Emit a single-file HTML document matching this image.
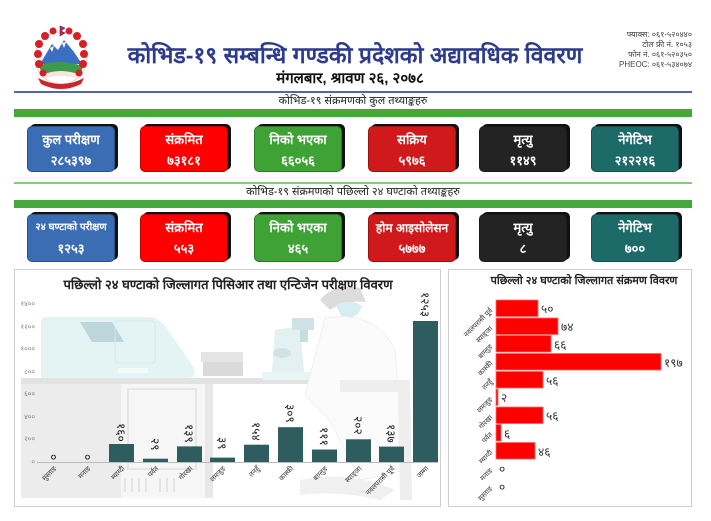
<!DOCTYPE html>
<html><head><meta charset="utf-8">
<style>
*{margin:0;padding:0;box-sizing:border-box}
html,body{width:711px;height:521px;overflow:hidden;background:#fff}
body{position:relative;font-family:"Liberation Sans","DejaVu Sans",sans-serif}
.abs{position:absolute}
.title{left:100px;top:43px;width:510px;text-align:center;font-size:23px;font-weight:bold;color:#2d3b8f;line-height:24px;white-space:nowrap}
.date{left:200px;top:70px;width:300px;text-align:center;font-size:15px;font-weight:bold;color:#111;line-height:17px;white-space:nowrap}
.contact{left:580px;top:30px;width:112px;text-align:right;font-size:8px;color:#444;line-height:10px;white-space:nowrap}
.hline{left:14px;width:678px}
.head{left:14px;width:678px;text-align:center;font-size:11px;color:#222;line-height:12px;white-space:nowrap}
.box{width:88px;border-radius:5px;color:#fff;font-weight:bold;text-align:center;box-shadow:3px -2px 0 #111;border:1px solid rgba(0,0,0,0.25);overflow:hidden}
.box .l{font-size:13px;line-height:16px;margin-top:5px;white-space:nowrap}
.box .v{font-size:13px;line-height:16px;margin-top:5px;white-space:nowrap}
.r1{top:126px;height:46px}
.r2{top:214px;height:48px}
</style></head><body>

<!-- Logo -->
<svg class="abs" style="left:26px;top:24px" width="70" height="68" viewBox="0 0 70 68">
  <circle cx="35" cy="34" r="26" fill="#fff" stroke="#e8d0d0" stroke-width="1"/>
  <path d="M14,40 L26,20 L32,26 L38,16 L48,28 L56,40 Z" fill="#3d6fc0"/>
  <path d="M24,24 L28,22 L26,28 Z M36,19 L40,18 L38,24 Z" fill="#fff"/>
  <path d="M13,42 Q30,34 57,42 L55,50 Q35,46 16,50 Z" fill="#3c9a4a"/>
  <path d="M18,50 Q35,44 52,50 L50,54 Q35,50 20,54 Z" fill="#f4e6e0"/>
  <path d="M12,54 Q35,66 58,54 L55,60 Q35,70 15,60 Z" fill="#c8262b"/>
  <g fill="#d62027">
    <circle cx="12" cy="30" r="4"/><circle cx="13" cy="20" r="4"/><circle cx="19" cy="12" r="4"/>
    <circle cx="27" cy="7" r="3.5"/><circle cx="43" cy="7" r="3.5"/><circle cx="51" cy="12" r="4"/>
    <circle cx="57" cy="20" r="4"/><circle cx="58" cy="30" r="4"/><circle cx="57" cy="40" r="4"/>
    <circle cx="13" cy="40" r="4"/><circle cx="17" cy="49" r="3.5"/><circle cx="53" cy="49" r="3.5"/>
  </g>
  <path d="M34,2 L34,12 L39,9 L35,7 L39,4 Z" fill="#d62027" stroke="#2a3b8f" stroke-width="0.6"/>
</svg>

<div class="abs title">कोभिड-१९ सम्बन्धि गण्डकी प्रदेशको अद्यावधिक विवरण</div>
<div class="abs date">मंगलबार, श्रावण २६, २०७८</div>
<div class="abs contact">फ्याक्स: ०६१-५२०४४०<br>टोल फ्री नं. १०५३<br>फोन नं. ०६१-५२०३५०<br>PHEOC: ०६१-५३४०७४</div>

<div class="abs hline" style="top:91px;height:2px;background:#5266ad"></div>
<div class="abs head" style="top:95px">कोभिड-१९ संक्रमणको कुल तथ्याङ्कहरु</div>
<div class="abs hline" style="top:109px;height:8px;background:#45a83a"></div>

<div class="abs box r1" style="left:27px;background:#3a6db4"><div class="l">कुल परीक्षण</div><div class="v">२८५३९७</div></div>
<div class="abs box r1" style="left:140px;background:#fe0000"><div class="l">संक्रमित</div><div class="v">७३१८१</div></div>
<div class="abs box r1" style="left:254px;background:#3ea334"><div class="l">निको भएका</div><div class="v">६६०५६</div></div>
<div class="abs box r1" style="left:368px;background:#d0191b"><div class="l">सक्रिय</div><div class="v">५९७६</div></div>
<div class="abs box r1" style="left:479px;background:#232323"><div class="l">मृत्यु</div><div class="v">११४९</div></div>
<div class="abs box r1" style="left:591px;background:#1d6b68"><div class="l">नेगेटिभ</div><div class="v">२१२२१६</div></div>

<div class="abs hline" style="top:182px;height:2px;background:#86cc78"></div>
<div class="abs head" style="top:186px">कोभिड-१९ संक्रमणको पछिल्लो २४ घण्टाको तथ्याङ्कहरु</div>
<div class="abs hline" style="top:200px;height:8px;background:#45a83a"></div>

<div class="abs box r2" style="left:27px;background:#3a6db4"><div class="l" style="font-size:10px">२४ घण्टाको परीक्षण</div><div class="v">१२५३</div></div>
<div class="abs box r2" style="left:140px;background:#fe0000"><div class="l">संक्रमित</div><div class="v">५५३</div></div>
<div class="abs box r2" style="left:254px;background:#3ea334"><div class="l">निको भएका</div><div class="v">४६५</div></div>
<div class="abs box r2" style="left:368px;background:#d0191b"><div class="l" style="font-size:12px">होम आइसोलेसन</div><div class="v">५७७७</div></div>
<div class="abs box r2" style="left:479px;background:#232323"><div class="l">मृत्यु</div><div class="v">८</div></div>
<div class="abs box r2" style="left:591px;background:#1d6b68"><div class="l">नेगेटिभ</div><div class="v">७००</div></div>

<!-- Charts -->
<svg class="abs" style="left:0;top:0" width="711" height="521" viewBox="0 0 711 521" font-family="Liberation Sans, DejaVu Sans, sans-serif">
  <!-- left panel -->
  <rect x="14.5" y="269.5" width="426" height="237" fill="#fff" stroke="#cfcfcf"/>
  <!-- background illustration -->
  <path d="M46,317 L148,317 Q158,317 166,327 L194,368 Q197,378 188,378 L41,378 L41,323 Q41,317 46,317 Z" fill="#e4f3f3"/>
  <path d="M80,322 L112,322 L124,342 L92,342 Z" fill="#bcd6dc"/>
  <rect x="115" y="321" width="40" height="42" rx="3" fill="none" stroke="#d5e9ea"/>
  <rect x="118" y="368" width="30" height="5" fill="#f3fafa"/>
  <rect x="21" y="378" width="300" height="6" fill="#e2e2e2"/>
  <rect x="21" y="384" width="100" height="114" fill="#ececec"/>
  <rect x="121" y="384" width="84" height="114" fill="#f6f6f6"/>
  <rect x="128" y="389" width="68" height="80" fill="none" stroke="#e6e6e6" stroke-width="2"/>
  <rect x="205" y="384" width="8" height="114" fill="#e8e8e8"/>
  <rect x="201" y="352" width="42" height="10" fill="#e4e4e4"/>
  <rect x="203" y="362" width="40" height="14" fill="#dadada"/>
  <!-- microscope -->
  <path d="M275,330 L300,326 L304,372 L272,372 Z" fill="#e3f1f2"/>
  <rect x="292" y="318" width="22" height="12" fill="#cfe3e6"/>
  <rect x="300" y="330" width="8" height="12" fill="#c6dde0"/>
  <ellipse cx="282" cy="353" rx="9" ry="5" fill="#cfe3e6"/>
  <rect x="262" y="372" width="56" height="8" fill="#e9f4f4"/>
  <!-- scientist -->
  <path d="M320,300 Q335,282 360,288 L366,302 Q345,300 330,310 Z" fill="#dcdcdc"/>
  <path d="M336,305 Q352,298 362,306 Q358,320 342,318 Z" fill="#d6edf2"/>
  <path d="M325,318 Q375,310 395,350 L405,470 L360,480 L330,420 L305,395 Z" fill="#fbfbfb" stroke="#efefef"/>
  <path d="M340,380 L410,380 L412,500 L400,500 L398,392 L340,392 Z" fill="#eeeeee"/>
  <path d="M300,480 Q350,470 395,490 L380,500 Q340,490 300,495 Z" fill="#f0f0f0"/>
  <g stroke="#e4e4e4" stroke-width="2">
    <line x1="125" y1="478" x2="125" y2="492"/><line x1="132" y1="478" x2="132" y2="492"/><line x1="139" y1="478" x2="139" y2="492"/><line x1="146" y1="478" x2="146" y2="492"/><line x1="160" y1="478" x2="160" y2="492"/><line x1="167" y1="478" x2="167" y2="492"/><line x1="174" y1="478" x2="174" y2="492"/>
  </g>

  <text x="228" y="289" text-anchor="middle" font-size="13" font-weight="bold" fill="#222">पछिल्लो २४ घण्टाको जिल्लागत पिसिआर तथा एन्टिजेन परीक्षण विवरण</text>

  <!-- y axis labels -->
  <g font-size="7" fill="#888" text-anchor="end">
    <text x="35" y="306">१४००</text>
    <text x="35" y="329">१२००</text>
    <text x="35" y="351">१०००</text>
    <text x="35" y="374">८००</text>
    <text x="35" y="396">६००</text>
    <text x="35" y="419">४००</text>
    <text x="35" y="441">२००</text>
    <text x="35" y="464">०</text>
  </g>
  <line x1="37" y1="462.5" x2="438" y2="462.5" stroke="#bbb" stroke-width="1"/>

  <!-- bars -->
  <g fill="#2f5c5e">
    <rect x="109" y="444" width="25" height="18"/>
    <rect x="143" y="458.7" width="25" height="3.3"/>
    <rect x="177" y="446.4" width="25" height="15.6"/>
    <rect x="210" y="457.6" width="25" height="4.4"/>
    <rect x="244" y="444.7" width="25" height="17.3"/>
    <rect x="278" y="427.2" width="25" height="34.8"/>
    <rect x="312" y="449.5" width="25" height="12.5"/>
    <rect x="346" y="439.3" width="25" height="22.7"/>
    <rect x="379" y="446.6" width="25" height="15.4"/>
    <rect x="413" y="321" width="25" height="141"/>
  </g>

  <!-- value labels -->
  <g font-size="12" fill="#222">
    <text x="53.5" y="461" text-anchor="middle">०</text>
    <text x="87.5" y="461" text-anchor="middle">०</text>
    <text transform="translate(117,423) rotate(90)">१६०</text>
    <text transform="translate(151,438) rotate(90)">२९</text>
    <text transform="translate(185,424) rotate(90)">१३९</text>
    <text transform="translate(218,437) rotate(90)">३९</text>
    <text transform="translate(252,422) rotate(90)">१५४</text>
    <text transform="translate(286,404) rotate(90)">३०९</text>
    <text transform="translate(320,427) rotate(90)">१११</text>
    <text transform="translate(354,416) rotate(90)">२०२</text>
    <text transform="translate(387,424) rotate(90)">१३७</text>
    <text transform="translate(421,292) rotate(90)">१२५३</text>
  </g>

  <!-- category labels -->
  <g font-size="7" fill="#333" text-anchor="end">
    <text transform="translate(57,469) rotate(-45)">मुस्ताङ</text>
    <text transform="translate(91,469) rotate(-45)">मनाङ</text>
    <text transform="translate(125,469) rotate(-45)">म्याग्दी</text>
    <text transform="translate(159,469) rotate(-45)">पर्वत</text>
    <text transform="translate(193,469) rotate(-45)">गोरखा</text>
    <text transform="translate(226,469) rotate(-45)">लमजुङ</text>
    <text transform="translate(260,469) rotate(-45)">तनहुँ</text>
    <text transform="translate(294,469) rotate(-45)">कास्की</text>
    <text transform="translate(328,469) rotate(-45)">बाग्लुङ</text>
    <text transform="translate(362,469) rotate(-45)">स्याङ्जा</text>
    <text transform="translate(395,469) rotate(-45)">नवलपरासी पूर्व</text>
    <text transform="translate(429,469) rotate(-45)">जम्मा</text>
  </g>

  <!-- right panel -->
  <rect x="448.5" y="269.5" width="243" height="237" fill="#fff" stroke="#cfcfcf"/>
  <text x="584" y="284" text-anchor="middle" font-size="11" font-weight="bold" fill="#222">पछिल्लो २४ घण्टाको जिल्लागत संक्रमण विवरण</text>
  <g fill="#ff0000" stroke="#ff6a6a" stroke-width="0.8">
    <rect x="496" y="300" width="42" height="16.5"/>
    <rect x="496" y="318" width="62" height="16.5"/>
    <rect x="496" y="335.5" width="55" height="16.5"/>
    <rect x="496" y="353.5" width="165" height="16.5"/>
    <rect x="496" y="371.5" width="47" height="16.5"/>
    <rect x="496" y="389" width="2" height="16.5"/>
    <rect x="496" y="407" width="47" height="16.5"/>
    <rect x="496" y="424.5" width="5" height="16.5"/>
    <rect x="496" y="442.5" width="39" height="16.5"/>
  </g>
  <g font-size="12" fill="#333">
    <text x="541" y="313">५०</text>
    <text x="561" y="331">७४</text>
    <text x="554" y="349">६६</text>
    <text x="664" y="367">१९७</text>
    <text x="546" y="385">५६</text>
    <text x="501" y="402">२</text>
    <text x="546" y="420">५६</text>
    <text x="504" y="438">६</text>
    <text x="538" y="456">४६</text>
    <text x="499" y="473">०</text>
    <text x="499" y="491">०</text>
  </g>
  <g font-size="7" fill="#333" text-anchor="end">
    <text transform="translate(493,311) rotate(-45)">नवलपरासी पूर्व</text>
    <text transform="translate(493,329) rotate(-45)">स्याङ्जा</text>
    <text transform="translate(493,347) rotate(-45)">बाग्लुङ</text>
    <text transform="translate(493,364) rotate(-45)">कास्की</text>
    <text transform="translate(493,382) rotate(-45)">तनहुँ</text>
    <text transform="translate(493,400) rotate(-45)">लमजुङ</text>
    <text transform="translate(493,418) rotate(-45)">गोरखा</text>
    <text transform="translate(493,435) rotate(-45)">पर्वत</text>
    <text transform="translate(493,453) rotate(-45)">म्याग्दी</text>
    <text transform="translate(493,471) rotate(-45)">मनाङ</text>
    <text transform="translate(493,489) rotate(-45)">मुस्ताङ</text>
  </g>
</svg>
</body></html>
